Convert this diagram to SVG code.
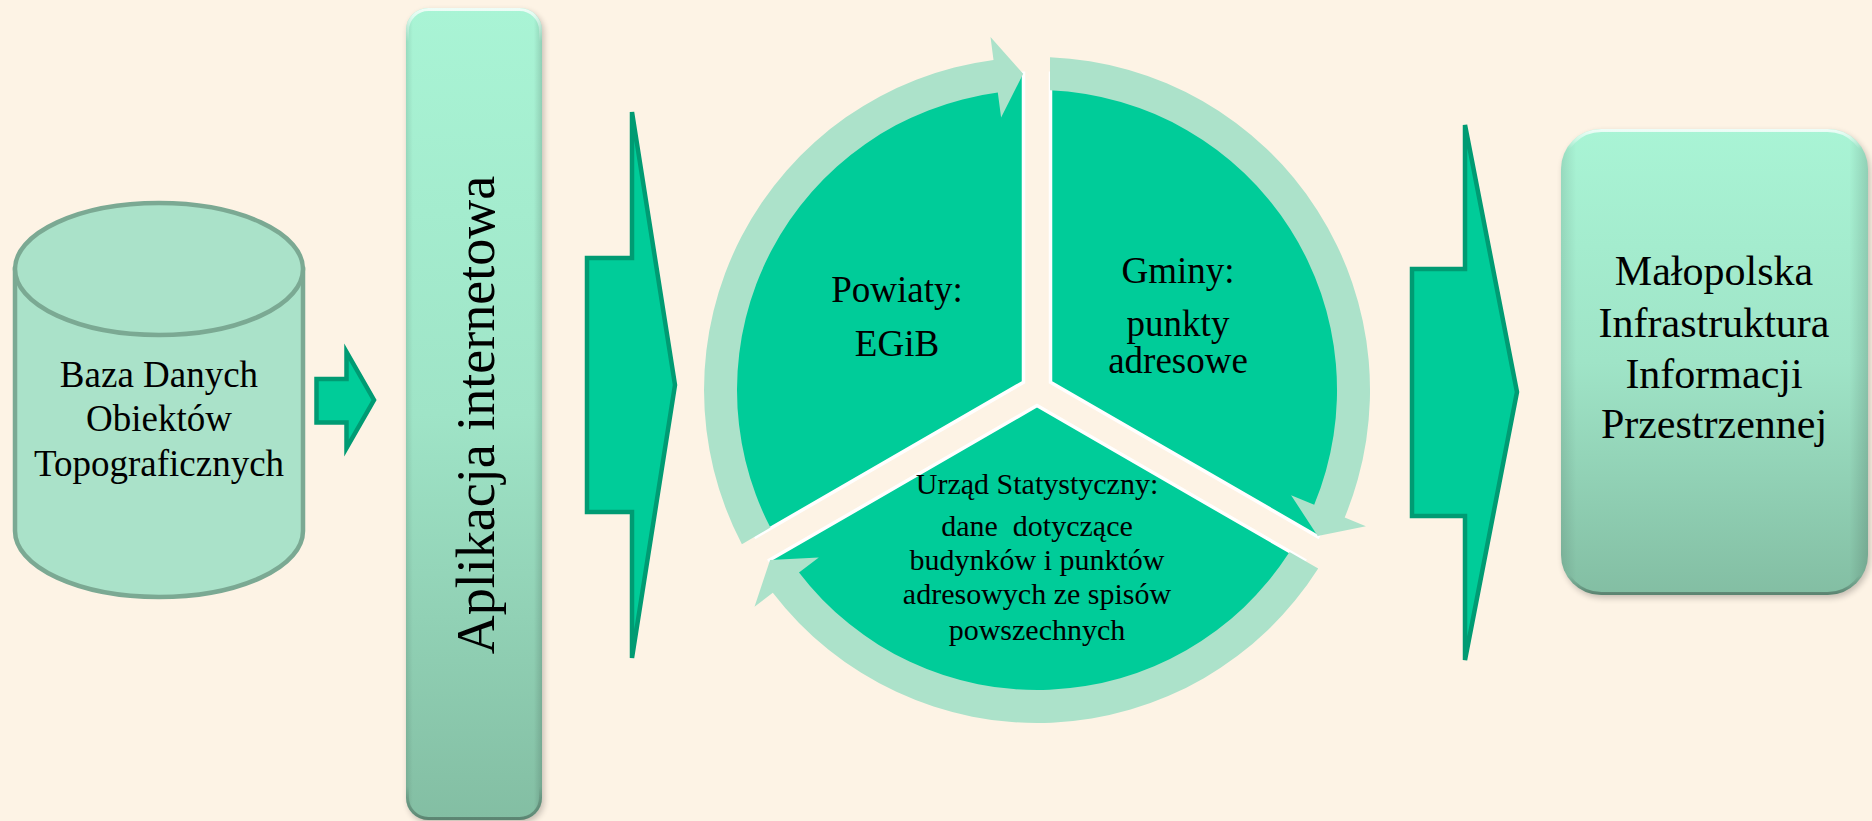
<svg xmlns="http://www.w3.org/2000/svg" width="1872" height="821" viewBox="0 0 1872 821">
<defs>
<style>
.t{font-family:"Liberation Serif","Times New Roman",serif;fill:#000;text-anchor:middle}
.blk{fill:#00CC99;stroke:#009B73;stroke-width:4.5;stroke-linejoin:miter;stroke-miterlimit:6}
.ring{fill:#ACE2CA}
.wedge{fill:#00CC99;stroke:#FFFFFF;stroke-width:3.5}
.cyl{fill:#AAE2C9;stroke:#7BA993;stroke-width:4.5}
</style>
<linearGradient id="gBar" x1="0" y1="0" x2="0" y2="1">
<stop offset="0" stop-color="#A9F4D5"/>
<stop offset="0.5" stop-color="#9FE4C7"/>
<stop offset="1" stop-color="#83BEA3"/>
</linearGradient>
<linearGradient id="gSide" x1="0" y1="0" x2="1" y2="0">
<stop offset="0" stop-color="#000" stop-opacity="0.10"/>
<stop offset="0.05" stop-color="#000" stop-opacity="0"/>
<stop offset="0.94" stop-color="#000" stop-opacity="0"/>
<stop offset="1" stop-color="#000" stop-opacity="0.14"/>
</linearGradient>
<linearGradient id="gRim" x1="0" y1="0" x2="0" y2="1">
<stop offset="0" stop-color="#FFFFFF" stop-opacity="0.8"/>
<stop offset="0.04" stop-color="#FFFFFF" stop-opacity="0"/>
<stop offset="0.96" stop-color="#000" stop-opacity="0"/>
<stop offset="1" stop-color="#000" stop-opacity="0.3"/>
</linearGradient>
<filter id="sh" x="-10%" y="-10%" width="120%" height="120%">
<feGaussianBlur stdDeviation="3"/>
</filter>
</defs>
<rect x="0" y="0" width="1872" height="821" fill="#FDF3E5"/>

<g id="node-bdot">
<path class="cyl" d="M15 269 L15 531 A144 66 0 0 0 303 531 L303 269 Z"/>
<ellipse class="cyl" cx="159" cy="269" rx="144" ry="66"/>
<text class="t" font-size="37" x="159" y="387">Baza Danych</text>
<text class="t" font-size="37" x="159" y="431">Obiektów</text>
<text class="t" font-size="37" x="159" y="476">Topograficznych</text>
</g>

<g id="node-app">
<rect x="408" y="11" width="136" height="812" rx="22" fill="#000" opacity="0.22" filter="url(#sh)"/>
<rect x="406" y="8" width="136" height="812" rx="22" fill="url(#gBar)"/>
<rect x="406" y="8" width="136" height="812" rx="22" fill="url(#gSide)"/>
<rect x="407.5" y="9.5" width="133" height="809" rx="21" fill="none" stroke="url(#gRim)" stroke-width="3"/>
<text class="t" font-size="54" transform="translate(494,415) rotate(-90)">Aplikacja internetowa</text>
</g>

<g id="node-powiaty">
<path class="wedge" d="M1023.5 382.2 L756 536.7 A317 317 0 0 1 1023.5 73.3 Z"/>
<text class="t" font-size="37" x="897" y="302">Powiaty:</text>
<text class="t" font-size="37" x="897" y="356">EGiB</text>
</g>

<g id="node-gminy">
<path class="wedge" d="M1050.5 382.2 L1050.5 73.3 A317 317 0 0 1 1318 536.7 Z"/>
<text class="t" font-size="37" x="1178" y="283">Gminy:</text>
<text class="t" font-size="37" x="1178" y="336">punkty</text>
<text class="t" font-size="37" x="1178" y="373">adresowe</text>
</g>

<g id="node-urzad">
<path class="wedge" d="M1037 405.6 L1304.5 560.1 A317 317 0 0 1 769.5 560.1 Z"/>
</g>

<g id="node-miip">
<rect x="1563" y="132" width="307" height="466" rx="40" fill="#000" opacity="0.22" filter="url(#sh)"/>
<rect x="1561" y="129" width="307" height="466" rx="40" fill="url(#gBar)"/>
<rect x="1561" y="129" width="307" height="466" rx="40" fill="url(#gSide)"/>
<rect x="1562.5" y="130.5" width="304" height="463" rx="39" fill="none" stroke="url(#gRim)" stroke-width="3"/>
<text class="t" font-size="42" x="1714" y="285">Małopolska</text>
<text class="t" font-size="42" x="1714" y="337">Infrastruktura</text>
<text class="t" font-size="42" x="1714" y="388">Informacji</text>
<text class="t" font-size="42" x="1714" y="438">Przestrzennej</text>
</g>

<g id="connectors">
<path class="blk" d="M316.5 379 L346.5 379 L346.5 352 L374 400 L346.5 448 L346.5 422.5 L316.5 422.5 Z"/>
<path class="blk" d="M587 258 L632 258 L632 112 L675 385 L632 658 L632 512 L587 512 Z"/>
<path class="blk" d="M1412 269 L1465 269 L1465 125 L1517 392 L1465 660 L1465 516 L1412 516 Z"/>
<path class="ring" d="M741.9 544.3 A333 333 0 0 1 993.5 59.9 L990.5 37.1 L1023.2 73.8 L1001.1 117.4 L997.8 92.6 A300 300 0 0 0 770.4 527.6 Z"/>
<path class="ring" d="M1050 57.3 A333 333 0 0 1 1344.7 517.4 L1365.9 526.2 L1317.7 536.1 L1291.1 495.2 L1314.2 504.8 A300 300 0 0 0 1050 90.3 Z"/>
<path class="ring" d="M1318.2 568.4 A333 333 0 0 1 772.8 592.7 L754.5 606.7 L770.1 560.1 L818.8 557.4 L799 572.6 A300 300 0 0 0 1289.5 552.1 Z"/>
</g>

<g id="labels-urzad">
<text class="t" font-size="30" x="1037" y="494">Urząd Statystyczny:</text>
<text class="t" font-size="30" x="1037" y="536" style="white-space:pre">dane  dotyczące</text>
<text class="t" font-size="30" x="1037" y="570">budynków i punktów</text>
<text class="t" font-size="30" x="1037" y="604">adresowych ze spisów</text>
<text class="t" font-size="30" x="1037" y="640">powszechnych</text>
</g>
</svg>
